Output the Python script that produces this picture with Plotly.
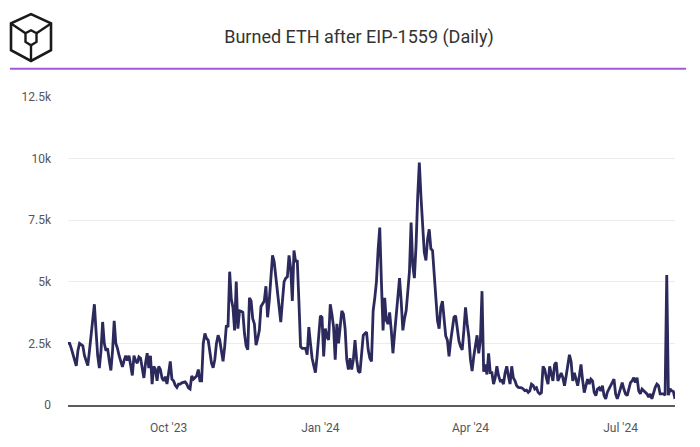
import pandas as pd
import plotly.graph_objects as go

start_date = "2023-08-01"
burned_eth = [
    2500, 2500, 2300, 2040, 1800, 1590, 2200, 2500, 2450, 2400,
    2000, 1750, 1600, 2200, 2800, 3400, 4090, 3000, 2000, 1500,
    2200, 3370, 2500, 2200, 2300, 1800, 1400, 2200, 3420, 2500,
    2300, 2000, 1800, 1550, 1800, 2000, 1800, 2000, 1600, 1200,
    2000, 1800, 1700, 1950, 1900, 1400, 1100, 1700, 2100, 1500,
    2000, 850, 1570, 1450, 980, 1570, 1440, 1100, 980, 1150,
    850, 1300, 1770, 1050, 980, 800, 715, 850, 850, 900,
    913, 940, 850, 700, 650, 1180, 1050, 1100, 1180, 1440,
    980, 980, 2500, 2900, 2700, 2630, 2100, 1700, 1510, 1840,
    2500, 2830, 2630, 2100, 1770, 2370, 3230, 3160, 5410, 4300,
    3960, 3030, 5010, 3100, 3820, 3800, 3760, 2900, 2400, 2240,
    4350, 4220, 3500, 3290, 2430, 2700, 3030, 4000, 4090, 4220,
    4820, 3560, 4220, 5000, 6070, 5810, 5200, 4480, 3800, 3360,
    4220, 5000, 5150, 5200, 6070, 5540, 4220, 6270, 5810, 5870,
    4200, 2370, 2300, 2300, 2300, 2040, 3160, 2500, 1900, 1600,
    1310, 1970, 2900, 3620, 3560, 1970, 3100, 2770, 2640, 4090,
    3690, 3160, 1840, 3290, 2500, 3290, 3820, 3690, 3100, 1840,
    1440, 1900, 1440, 1840, 2630, 1840, 1380, 1310, 1970, 2830,
    2900, 2960, 2240, 1900, 1770, 3820, 4350, 5010, 6300, 7200,
    5010, 3030, 4350, 3430, 3290, 3760, 3030, 2100, 2900, 3700,
    4350, 5150, 4220, 3030, 3500, 3820, 4600, 5410, 7400, 5680,
    5150, 6470, 8450, 9840, 8450, 7260, 6200, 5870, 6730, 7130,
    6340, 6270, 5410, 4220, 3430, 3100, 3960, 4220, 3560, 2800,
    2630, 1970, 2600, 3200, 3560, 3620, 3030, 2600, 2370, 2240,
    3030, 3960, 3290, 2770, 1840, 1380, 1970, 2500, 2830, 2100,
    2600, 4620, 1350, 1640, 1240, 2100, 1310, 1310, 850, 1110,
    1570, 1200, 980, 1000, 850, 1310, 1570, 1180, 850, 1570,
    1100, 980, 780, 715, 715, 700, 650, 580, 600, 515,
    580, 850, 800, 650, 700, 515, 450, 500, 1570, 1450,
    1110, 850, 1570, 1310, 980, 1640, 1730, 980, 1180, 1300,
    1110, 780, 1180, 1640, 2040, 1770, 980, 1310, 1050, 780,
    1180, 1650, 1000, 500, 780, 1050, 850, 1050, 980, 515,
    380, 650, 700, 580, 780, 380, 250, 520, 650, 780,
    910, 1050, 450, 250, 450, 650, 910, 650, 450, 380,
    715, 910, 980, 1110, 910, 1110, 580, 450, 650, 580,
    515, 450, 320, 450, 250, 520, 715, 850, 780, 450,
    450, 450, 400, 5280, 400, 650, 580, 550, 250,
]
dates = pd.date_range(start=start_date, periods=len(burned_eth), freq="D")

x_tick_vals = ["2023-10-01", "2024-01-01", "2024-04-01", "2024-07-01"]
x_tick_text = ["Oct '23", "Jan '24", "Apr '24", "Jul '24"]
y_tick_vals = [0, 2500, 5000, 7500, 10000, 12500]
y_tick_text = ["0", "2.5k", "5k", "7.5k", "10k", "12.5k"]

W, H = 700, 447
L, R, T, B = 68, 675, 97, 413


def px(x, y):
    return (x - L) / (R - L), (B - y) / (B - T)


def path(points, close=True):
    parts = []
    for i, (x, y) in enumerate(points):
        u, v = px(x, y)
        parts.append(("M" if i == 0 else "L") + f"{u:.5f},{v:.5f}")
    return " ".join(parts) + (" Z" if close else "")


logo_color = "#1a1a1a"
outer = [(31, 12), (51, 21.5), (51, 49), (31, 60), (11, 49), (11, 21.5)]
inner = [(31, 28.5), (36.5, 31.5), (36.5, 40.5), (31, 44), (25.5, 40.5), (25.5, 31.5)]
shapes = [
    dict(type="path", xref="paper", yref="paper", path=path(outer),
         line=dict(color=logo_color, width=2.6)),
    dict(type="path", xref="paper", yref="paper", path=path(inner),
         line=dict(color=logo_color, width=2.4)),
    dict(type="path", xref="paper", yref="paper",
         path=path([(11, 21.5), (25.5, 31.5)], close=False),
         line=dict(color=logo_color, width=2.4)),
    dict(type="path", xref="paper", yref="paper",
         path=path([(51, 21.5), (36.5, 31.5)], close=False),
         line=dict(color=logo_color, width=2.4)),
    dict(type="path", xref="paper", yref="paper",
         path=path([(31, 44), (31, 60)], close=False),
         line=dict(color=logo_color, width=2.4)),
]
u0, v0 = px(10, 68)
u1, _ = px(686, 68)
shapes.append(dict(type="line", xref="paper", yref="paper", x0=u0, x1=u1, y0=v0, y1=v0,
                   line=dict(color="#a259d9", width=2)))

fig = go.Figure()
fig.add_trace(go.Scatter(
    x=dates, y=burned_eth, mode="lines",
    line=dict(color="#2c2a5c", width=2.8),
    hoverinfo="x+y", showlegend=False,
))

fig.update_layout(
    width=W, height=H,
    margin=dict(l=L, r=W - R, t=T, b=H - B, pad=0),
    paper_bgcolor="white", plot_bgcolor="white",
    font=dict(family="Roboto, sans-serif", size=12, color="#555555"),
    title=dict(text="Burned ETH after EIP-1559 (Daily)", x=359 / W, y=1 - 37 / H,
               xanchor="center", yanchor="middle",
               font=dict(family="Roboto, sans-serif", size=18, color="#333333")),
    shapes=shapes,
    xaxis=dict(
        range=[dates[0], dates[-1]],
        tickvals=x_tick_vals, ticktext=x_tick_text,
        showgrid=False, zeroline=False,
        showline=True, linecolor="#5c5c5c", linewidth=2,
        ticks="", ticklabelstandoff=11,
        tickfont=dict(size=12, color="#555555"),
    ),
    yaxis=dict(
        range=[0, 12500],
        tickvals=y_tick_vals, ticktext=y_tick_text,
        showgrid=True, gridcolor="#ececec", gridwidth=1,
        zeroline=False, showline=False, ticks="",
        ticklabelstandoff=16,
        tickfont=dict(size=12, color="#555555"),
    ),
)

fig.write_html("out.html", config={"displayModeBar": False},
               post_script="document.body.style.margin='0';")
